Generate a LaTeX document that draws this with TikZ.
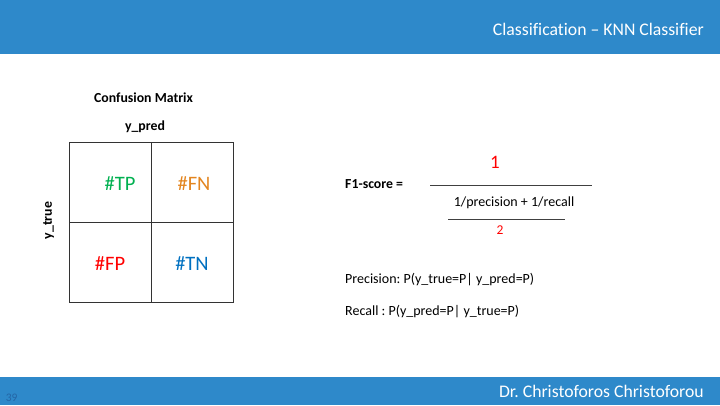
\documentclass[tikz,border=0pt]{standalone}
\usepackage{fontspec}
\setmainfont{Carlito}[Ligatures=NoCommon]
\frenchspacing
\definecolor{barblue}{HTML}{2E89CA}
\definecolor{numblue}{HTML}{2466A6}
\definecolor{tpgreen}{HTML}{00B050}
\definecolor{fnorange}{HTML}{E3851F}
\definecolor{fpred}{HTML}{FF0000}
\definecolor{tnblue}{HTML}{0070C0}
\begin{document}
\begin{tikzpicture}[x=1pt,y=-1pt,
  lbl/.style={inner sep=0pt,font=\fontsize{14}{16}\selectfont},
  boldlbl/.style={inner sep=0pt,font=\fontsize{13.8}{16}\selectfont\bfseries},
  cell/.style={inner sep=0pt,font=\fontsize{20.5}{24}\selectfont},
  bartext/.style={inner sep=0pt,anchor=base east,text=white,font=\fontsize{17.7}{20}\selectfont},
  grid/.style={draw=black!80,line width=0.8pt},
  rule/.style={draw=black!75,line width=0.8pt}]
\useasboundingbox (0,0) rectangle (720,405);
% header and footer bars
\fill[barblue] (0,0) rectangle (720,54.3);
\fill[barblue] (0,376.7) rectangle (720,405);
\node[bartext] (title) at (704,35) {Classification – KNN Classifier};
\node[bartext] (author) at (704,397.3) {Dr.\ Christoforos Christoforou};
\node[inner sep=0pt,anchor=base west,text=numblue,font=\fontsize{11.5}{13}\selectfont] (page) at (5.7,401.3) {39};
% confusion matrix
\node[boldlbl] (cmtitle) at (143.5,98) {Confusion Matrix};
\node[boldlbl] (pred) at (145,127) {y\_pred};
\node[boldlbl,rotate=90] (true) at (48.5,220.5) {y\_true};
\draw[grid] (69,142) rectangle (233,302.5);
\draw[grid] (151.5,142) -- (151.5,302.5);
\draw[grid] (69,222.5) -- (233,222.5);
\node[cell,text=tpgreen] (tp) at (120,184) {\#TP};
\node[cell,text=fnorange] (fn) at (194,184) {\#FN};
\node[cell,text=fpred] (fp) at (110,264) {\#FP};
\node[cell,text=tnblue] (tn) at (192,264) {\#TN};
% F1 score formula
\node[boldlbl,anchor=west] (f1) at (345,184) {F1-score =};
\coordinate (barA) at (430,185);
\coordinate (barB) at (592,185);
\draw[rule] (barA) -- (barB);
\node[inner sep=0pt,text=fpred,font=\fontsize{19}{22}\selectfont] (one) at (495,162) {1};
\node[lbl] (den) at (514,203) {1/precision + 1/recall};
\coordinate (subA) at (448,219);
\coordinate (subB) at (565,219);
\draw[rule] (subA) -- (subB);
\node[inner sep=0pt,text=fpred,font=\fontsize{13.5}{15}\selectfont] (two) at (500,230.5) {2};
% definitions
\node[lbl,anchor=west] (prec) at (345,280) {Precision: P(y\_true=P| y\_pred=P)};
\node[lbl,anchor=west] (rec) at (345,312) {Recall : P(y\_pred=P| y\_true=P)};
\end{tikzpicture}
\end{document}
